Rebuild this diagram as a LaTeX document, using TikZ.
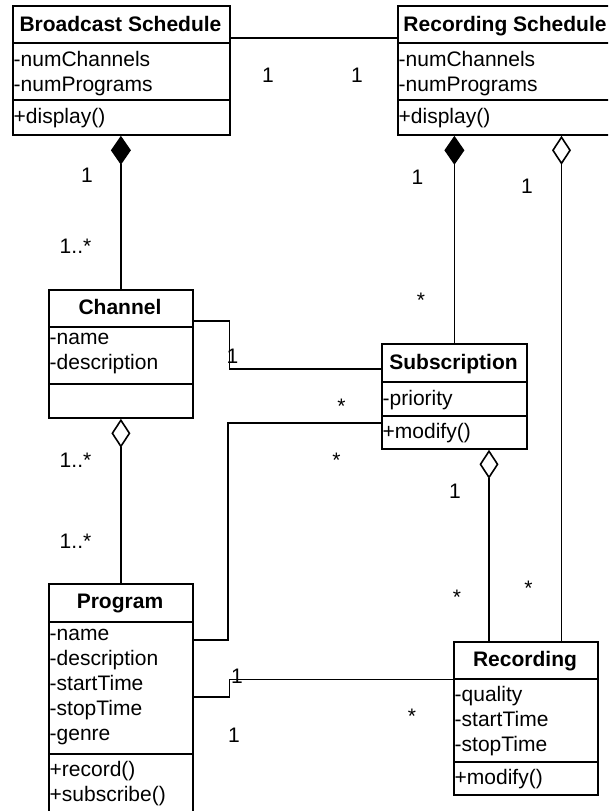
\documentclass[tikz,border=0pt]{standalone}
\usepackage{fontspec}
\setmainfont{Liberation Sans}
\usetikzlibrary{arrows.meta,calc}
\begin{document}
\begin{tikzpicture}[x=1pt,y=-1pt,
  classbox/.style={draw, line width=1.8pt, inner sep=0pt, anchor=north west},
  divider/.style={line width=1.8pt},
  assoc/.style={line width=1.2pt},
  title/.style={font=\bfseries\fontsize{21}{25}\selectfont, inner sep=0pt, anchor=base},
  members/.style={font=\fontsize{21}{25}\selectfont, inner sep=0pt, anchor=north west, align=left},
  mult/.style={font=\fontsize{21}{25}\selectfont, inner sep=0pt, anchor=base},
  compo/.style={assoc, {Diamond[length=29pt,width=20pt,fill=black,line width=1.6pt]}-},
  aggr/.style={assoc, {Diamond[open,length=29pt,width=19pt,line width=1.6pt]}-},
]
\useasboundingbox (0,0) rectangle (608,811);
\fill[white] (0,0) rectangle (608,811);
\clip (0,0) rectangle (608,811);

% class boxes
\node[classbox, minimum width=217pt, minimum height=129pt] (bs)  at (12,5) {};
\node[classbox, minimum width=223pt, minimum height=129pt] (rs)  at (397,5) {};
\node[classbox, minimum width=144pt, minimum height=128pt] (ch)  at (48,289) {};
\node[classbox, minimum width=145pt, minimum height=105pt] (sub) at (381,343) {};
\node[classbox, minimum width=144pt, minimum height=240pt] (pg)  at (48,583) {};
\node[classbox, minimum width=144pt, minimum height=153pt] (rec) at (453,641) {};

% compartment dividers
\draw[divider] ($(bs.north west)+(0,38)$) -- ($(bs.north east)+(0,38)$);
\draw[divider] ($(bs.north west)+(0,95)$) -- ($(bs.north east)+(0,95)$);
\draw[divider] ($(rs.north west)+(0,38)$) -- ($(rs.north east)+(0,38)$);
\draw[divider] ($(rs.north west)+(0,95)$) -- ($(rs.north east)+(0,95)$);
\draw[divider] ($(ch.north west)+(0,38)$) -- ($(ch.north east)+(0,38)$);
\draw[divider] ($(ch.north west)+(0,95)$) -- ($(ch.north east)+(0,95)$);
\draw[divider] ($(sub.north west)+(0,39)$) -- ($(sub.north east)+(0,39)$);
\draw[divider] ($(sub.north west)+(0,73)$) -- ($(sub.north east)+(0,73)$);
\draw[divider] ($(pg.north west)+(0,39)$) -- ($(pg.north east)+(0,39)$);
\draw[divider] ($(pg.north west)+(0,171)$) -- ($(pg.north east)+(0,171)$);
\draw[divider] ($(rec.north west)+(0,38)$) -- ($(rec.north east)+(0,38)$);
\draw[divider] ($(rec.north west)+(0,121)$) -- ($(rec.north east)+(0,121)$);

% class names
\node[title] (bs-t)  at (120.5,31) {Broadcast Schedule};
\node[title] (rs-t)  at (505,31) {Recording Schedule};
\node[title] (ch-t)  at (120,314) {Channel};
\node[title] (sub-t) at (453.5,369) {Subscription};
\node[title] (pg-t)  at (120,608) {Program};
\node[title] (rec-t) at (525,666) {Recording};

% attributes and operations
\node[members] (bs-a)  at (13.5,50.8) {-numChannels\\-numPrograms};
\node[members] (bs-m)  at (13.5,107.8) {+display()};
\node[members] (rs-a)  at (398.5,50.8) {-numChannels\\-numPrograms};
\node[members] (rs-m)  at (398.5,107.8) {+display()};
\node[members] (ch-a)  at (49.5,332.8) {-name\\-description};
\node[members] (sub-a) at (382.5,389.8) {-priority};
\node[members] (sub-m) at (382.5,422.8) {+modify()};
\node[members] (pg-a)  at (49.5,628.8) {-name\\-description\\-startTime\\-stopTime\\-genre};
\node[members] (pg-m)  at (49.5,760.8) {+record()\\+subscribe()};
\node[members] (rec-a) at (454.5,685.8) {-quality\\-startTime\\-stopTime};
\node[members] (rec-m) at (454.5,768.8) {+modify()};

% associations
\draw[assoc] ($(bs.north east)+(0,33)$) -- ($(rs.north west)+(0,33)$);
\draw[compo] (ch.north |- bs.south) -- (ch.north);
\draw[compo] (sub.north |- rs.south) -- (sub.north);
\draw[aggr] (ch.south) -- (pg.north);
\coordinate (rec-in1) at ($(rec.north west)+(108.5,0)$);
\coordinate (rec-in2) at ($(rec.north west)+(36,0)$);
\draw[aggr] (rec-in1 |- rs.south) -- (rec-in1);
\draw[aggr] (rec-in2 |- sub.south) -- (rec-in2);
\draw[assoc] ($(ch.north east)+(0,32)$) -- ++(36,0) |- ($(sub.north west)+(0,26)$);
\draw[assoc] ($(sub.north west)+(0,80)$) -- ++(-153,0) |- ($(pg.north east)+(0,57)$);
\draw[assoc] ($(pg.north east)+(0,114)$) -- ++(36,0) |- ($(rec.north west)+(0,38.5)$);

% multiplicities
\node[mult] (m1)  at (268,82) {1};
\node[mult] (m2)  at (357,82) {1};
\node[mult] (m3)  at (87,182) {1};
\node[mult] (m4)  at (75.5,253) {1..*};
\node[mult] (m5)  at (75.5,467) {1..*};
\node[mult] (m6)  at (75.5,548) {1..*};
\node[mult] (m7)  at (417.5,184) {1};
\node[mult] (m8)  at (527,193) {1};
\node[mult] (m9)  at (421,307) {*};
\node[mult] (m10) at (232.5,363) {1};
\node[mult] (m11) at (341.5,413) {*};
\node[mult] (m12) at (336.5,467) {*};
\node[mult] (m13) at (455,498) {1};
\node[mult] (m14) at (457,604) {*};
\node[mult] (m15) at (528.5,595) {*};
\node[mult] (m16) at (237,683) {1};
\node[mult] (m17) at (234,742) {1};
\node[mult] (m18) at (412,723) {*};
\end{tikzpicture}
\end{document}
